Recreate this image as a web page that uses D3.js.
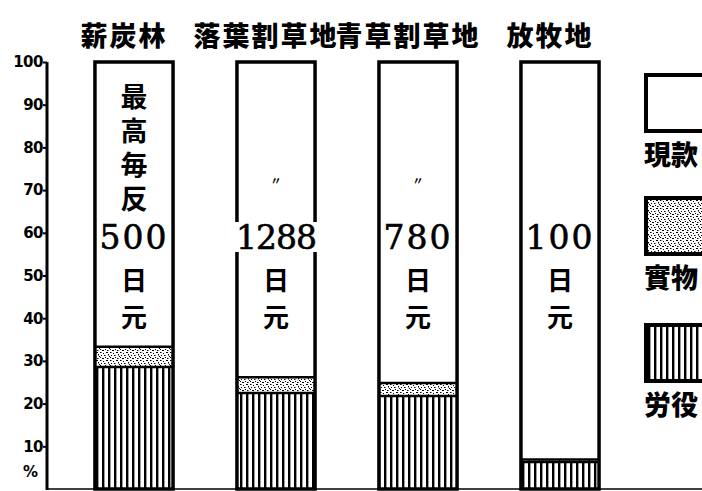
<!DOCTYPE html>
<html><head><meta charset="utf-8">
<script src="https://cdn.jsdelivr.net/npm/d3@7"></script>
<style>body{margin:0;background:#fff}svg{display:block}</style>
</head><body>
<svg id="c" width="702" height="491"></svg>
<script>
// ---- data ----
const categories = ["薪炭林","落葉割草地","青草割草地","放牧地"];
const labor = [28.6, 22.5, 21.8, 6.3];   // 労役
const goods = [4.7, 3.7, 3.0, 0.6];      // 實物
const cash  = [66.7, 73.8, 75.2, 93.1];  // 現款
const amounts = ["500","1288","780","100"];
const notes = ["最高毎反","〃","〃",""];
const unit = "日元";
const legendLabels = ["現款","實物","労役"];
const yTicks = [10,20,30,40,50,60,70,80,90,100];
const yUnit = "%";

// ---- layout ----
const W = 702, H = 491;
const svg = d3.select("#c");
svg.append("rect").attr("width",W).attr("height",H).attr("fill","#fff");

const y = d3.scaleLinear().domain([0,100]).range([489,62]);
const x = d3.scaleBand().domain(categories).range([63,631]).paddingInner(0.45).paddingOuter(0.225);

const defs = svg.append("defs");
const st = defs.append("pattern").attr("id","stip").attr("patternUnits","userSpaceOnUse").attr("width",10).attr("height",8);
st.append("rect").attr("width",10).attr("height",8).attr("fill","#fff");
[[0,0,1.5,1],[3,1,1,1],[6,0,2,1],[1,3,1,1],[4,3,1.5,1],[8,2,1,1.5],[0,5,1,1],[2,6,2,1],[5,5,1,1],[7,6,1.5,1],[9,4,1,1]].forEach(d=>{
  st.append("rect").attr("x",d[0]).attr("y",d[1]).attr("width",d[2]).attr("height",d[3]).attr("fill","#000");
});
const sp = defs.append("pattern").attr("id","stripe").attr("patternUnits","userSpaceOnUse").attr("width",6).attr("height",10);
sp.append("rect").attr("width",6).attr("height",10).attr("fill","#fff");
sp.append("rect").attr("x",0).attr("width",2.4).attr("height",10).attr("fill","#000");

const tickFont = "'DejaVu Sans',sans-serif";
const cjk = "'Noto Sans CJK JP',sans-serif";
// y axis
const axis = svg.append("g").attr("transform","translate(47,0)")
  .call(d3.axisLeft(y).tickValues(yTicks).tickSize(4).tickFormat(d3.format("d")));
axis.select(".domain").attr("stroke","#000").attr("stroke-width",3).attr("d","M0,62V490");
axis.selectAll(".tick line").attr("stroke","#000").attr("stroke-width",2);
axis.selectAll(".tick text").attr("x",-4).attr("font-family",tickFont).attr("font-weight","bold")
  .attr("font-size",15).attr("fill","#000").attr("letter-spacing","-0.5");
svg.append("text").attr("x",38).attr("y",y(4)).attr("text-anchor","end").attr("dominant-baseline","central")
  .attr("font-family",tickFont).attr("font-weight","bold").attr("font-size",15).text(yUnit);

// baseline
svg.append("line").attr("x1",47).attr("x2",W).attr("y1",489).attr("y2",489).attr("stroke","#000").attr("stroke-width",1.5);

// bars
categories.forEach((c,i)=>{
  const bx = x(c), bw = x.bandwidth();
  const segs = [
    {v0:0, v1:labor[i], fill:"url(#stripe)"},
    {v0:labor[i], v1:labor[i]+goods[i], fill:"url(#stip)"},
    {v0:labor[i]+goods[i], v1:labor[i]+goods[i]+cash[i], fill:"#fff"}
  ];
  const g = svg.append("g");
  g.selectAll("rect.seg").data(segs).join("rect").attr("class","seg")
    .attr("x",bx).attr("width",bw).attr("y",d=>y(d.v1)).attr("height",d=>y(d.v0)-y(d.v1)).attr("fill",d=>d.fill);
  g.selectAll("line.div").data(segs.slice(1)).join("line").attr("class","div")
    .attr("x1",bx).attr("x2",bx+bw).attr("y1",d=>y(d.v0)).attr("y2",d=>y(d.v0)).attr("stroke","#000").attr("stroke-width",2.5);
  g.append("rect").attr("x",bx).attr("width",bw).attr("y",y(100)).attr("height",y(0)-y(100))
    .attr("fill","none").attr("stroke","#000").attr("stroke-width",3.5);

  const cx = bx + bw/2;
  const numY = 237;
  const nt = g.append("text").attr("x",cx).attr("y",numY).attr("text-anchor","middle").attr("dominant-baseline","central")
    .attr("font-family","DejaVu Serif").attr("font-size",33).attr("letter-spacing", amounts[i].length>3?-1:2)
    .attr("fill","#000").attr("stroke","#000").attr("stroke-width",0.6).text(amounts[i]);
  const bb = nt.node().getBBox();
  g.insert("rect", function(){return nt.node();}).attr("x",bb.x-1).attr("y",numY-15).attr("width",bb.width+2).attr("height",30).attr("fill","#fff");
  // unit (vertical)
  g.append("text").attr("x",cx).attr("y",numY+30).attr("style","writing-mode:vertical-rl")
    .attr("font-family",cjk).attr("font-weight","bold").attr("font-size",26).attr("letter-spacing",11).text(unit);
  const n = notes[i];
  if (n === "〃") {
    g.append("text").attr("x",cx).attr("y",180).attr("text-anchor","middle").attr("dominant-baseline","central")
      .attr("font-family",cjk).attr("font-weight","bold").attr("font-size",11).text(n);
  } else if (n) {
    g.append("text").attr("x",cx).attr("y",83).attr("style","writing-mode:vertical-rl")
      .attr("font-family",cjk).attr("font-weight","bold").attr("font-size",27).attr("letter-spacing",7).text(n);
  }
  svg.append("text").attr("x",cx-10).attr("y",34).attr("text-anchor","middle").attr("dominant-baseline","central")
    .attr("font-family",cjk).attr("font-weight","900").attr("font-size",27).attr("letter-spacing",2).text(c);
});

// legend
const lfills = ["#fff","url(#stip)","url(#stripe)"];
const lTop = [75,198,325];
legendLabels.forEach((l,i)=>{
  svg.append("rect").attr("x",646).attr("y",lTop[i]).attr("width",64).attr("height",56)
    .attr("fill",lfills[i]).attr("stroke","#000").attr("stroke-width",4);
  svg.append("text").attr("x",644).attr("y",lTop[i]+78).attr("dominant-baseline","central")
    .attr("font-family",cjk).attr("font-weight","900").attr("font-size",27).text(l);
});
</script>
</body></html>
